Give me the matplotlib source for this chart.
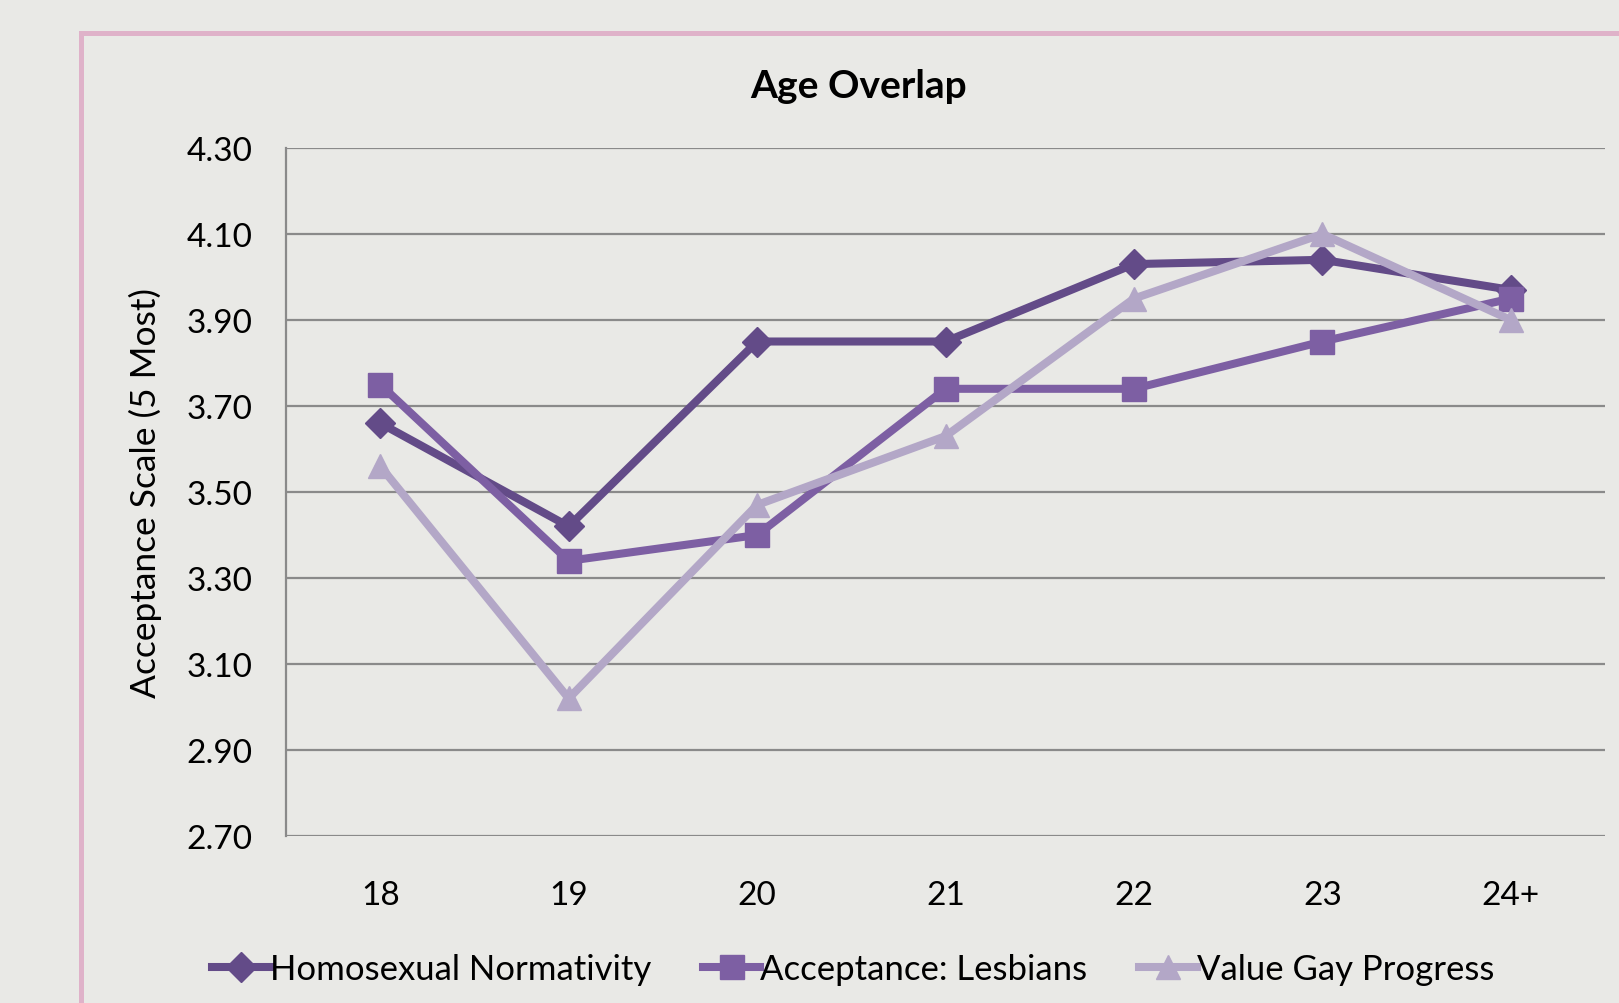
import matplotlib
matplotlib.use("Agg")
from matplotlib import pyplot as plt
from matplotlib.patches import Rectangle

# Data
ages = ["18", "19", "20", "21", "22", "23", "24+"]
homosexual_normativity = [3.66, 3.42, 3.85, 3.85, 4.03, 4.04, 3.97]
acceptance_lesbians = [3.75, 3.34, 3.40, 3.74, 3.74, 3.85, 3.95]
value_gay_progress = [3.56, 3.02, 3.47, 3.63, 3.95, 4.10, 3.90]
y_ticks = [2.70, 2.90, 3.10, 3.30, 3.50, 3.70, 3.90, 4.10, 4.30]

plt.rcParams["font.family"] = ["Lato", "DejaVu Sans"]

fig = plt.figure(figsize=(16.19, 10.04), dpi=100)
fig.patch.set_facecolor("#e9e9e6")

# Pink frame around the chart
frame = Rectangle((0.05, -0.1), 1.2, 1.066, transform=fig.transFigure,
                  fill=False, edgecolor="#dfb2c9", linewidth=3.6, zorder=0)
fig.patches.append(frame)

ax = fig.add_axes([0.1767, 0.1663, 0.8147, 0.6853])
ax.set_facecolor("none")

x = list(range(len(ages)))
series = [
    ("Homosexual Normativity", homosexual_normativity, "#634b88", "D", 15),
    ("Acceptance: Lesbians", acceptance_lesbians, "#7d5fa3", "s", 17),
    ("Value Gay Progress", value_gay_progress, "#b3a7c7", "^", 17),
]
for label, vals, color, marker, ms in series:
    ax.plot(x, vals, color=color, linewidth=5.8, marker=marker, markersize=ms,
            markerfacecolor=color, markeredgecolor=color, label=label,
            solid_joinstyle="round", zorder=3)

ax.set_xlim(-0.5, len(ages) - 0.5)
ax.set_ylim(2.70, 4.30)
ax.set_yticks(y_ticks)
ax.set_yticklabels([f"{v:.2f}" for v in y_ticks])
ax.set_xticks(x)
ax.set_xticklabels(ages)
ax.yaxis.grid(True, color="#8a8a8a", linewidth=1.6)
ax.set_axisbelow(True)
ax.tick_params(axis="both", length=0, labelsize=24, colors="black")
ax.tick_params(axis="y", pad=24)
ax.tick_params(axis="x", pad=32)
for side in ["top", "right", "bottom"]:
    ax.spines[side].set_visible(False)
ax.spines["left"].set_color("#8a8a8a")
ax.spines["left"].set_linewidth(1.6)

ax.set_ylabel("Acceptance Scale (5 Most)", fontsize=25.5, labelpad=18)
fig.text(0.53, 0.914, "Age Overlap", ha="center", va="center",
         fontsize=28, fontweight="bold")

fig.legend(loc="center", bbox_to_anchor=(0.527, 0.034), ncol=3, frameon=False,
           fontsize=25, handlelength=1.65, handletextpad=0.0, columnspacing=1.5)

fig.savefig("out.png", dpi=100, facecolor=fig.get_facecolor())
